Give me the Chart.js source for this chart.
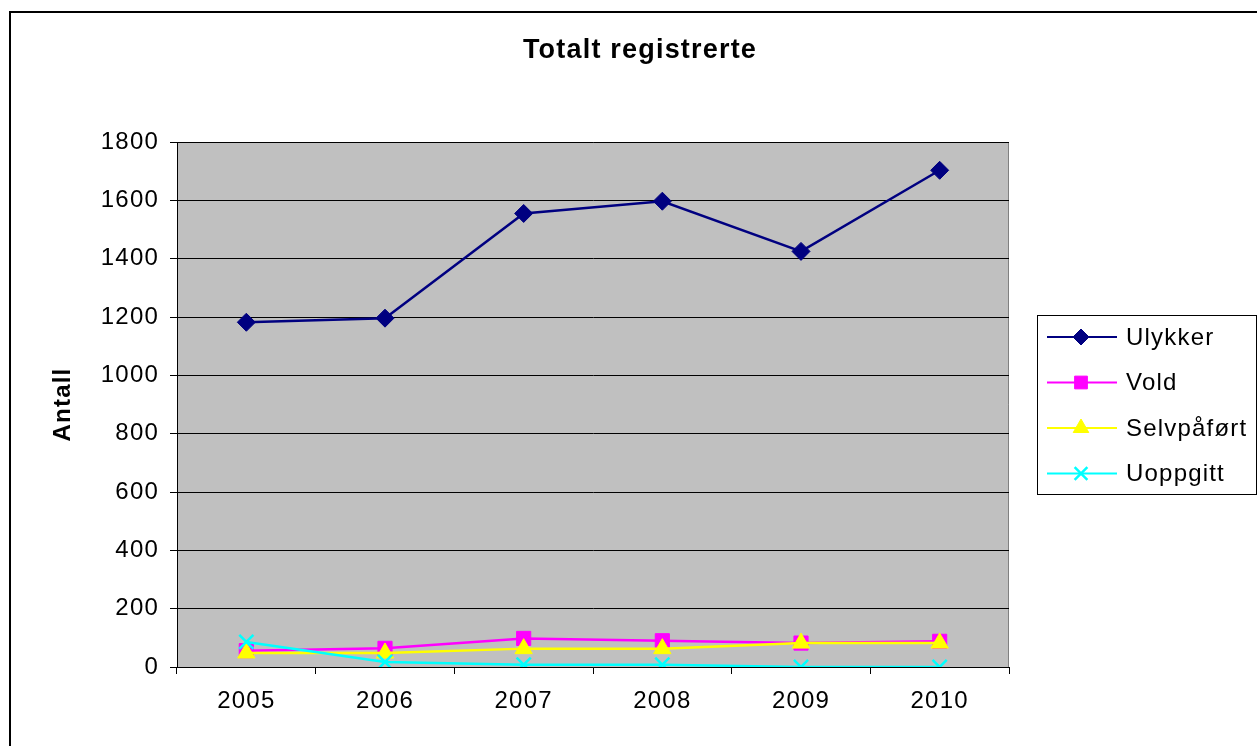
<!DOCTYPE html>
<html>
<head>
<meta charset="utf-8">
<script src="https://cdn.jsdelivr.net/npm/chart.js@4.4.1/dist/chart.umd.min.js"></script>
<style>
  html, body { margin: 0; padding: 0; background: #fff; }
  #wrap { width: 1257px; height: 746px; position: relative; }
</style>
</head>
<body>
<div id="wrap"><canvas id="c" width="1257" height="746"></canvas></div>
<script>
const FONT = '"Liberation Sans", Arial, sans-serif';
Chart.defaults.font.family = FONT;
Chart.defaults.color = '#000';
Chart.defaults.animation = false;

const years = ['2005', '2006', '2007', '2008', '2009', '2010'];
const ulykker = [1182, 1196, 1555, 1597, 1425, 1703];
const vold = [56, 64, 98, 90, 82, 88];
const selvpafort = [48, 48, 63, 63, 82, 82];
const uoppgitt = [86, 17, 8, 8, 0, 0];
const yTicks = [0, 200, 400, 600, 800, 1000, 1200, 1400, 1600, 1800];

const series = [
  { label: 'Ulykker', data: ulykker, color: '#000080', style: 'rectRot', r: 9 },
  { label: 'Vold', data: vold, color: '#ff00ff', style: 'rect', r: 10 },
  { label: 'Selvpåført', data: selvpafort, color: '#ffff00', style: 'triangle', r: 10 },
  { label: 'Uoppgitt', data: uoppgitt, color: '#00ffff', style: 'crossRot', r: 10 },
];

// grey plot area, outer frame, title and boxed legend
const decor = {
  id: 'decor',
  beforeDraw(chart) {
    const { ctx, chartArea: a } = chart;
    ctx.save();
    ctx.fillStyle = '#c0c0c0';
    ctx.fillRect(a.left, a.top, a.right - a.left, a.bottom - a.top);
    ctx.strokeStyle = '#808080';
    ctx.lineWidth = 1;
    ctx.beginPath();
    ctx.moveTo(a.left, a.top + 0.5);
    ctx.lineTo(a.right - 0.5, a.top + 0.5);
    ctx.lineTo(a.right - 0.5, a.bottom);
    ctx.stroke();
    ctx.restore();
    // the original text is a little loosely spaced
    ctx.letterSpacing = '1.2px';
  },
  afterDraw(chart) {
    const { ctx } = chart;
    ctx.save();
    // outer frame
    ctx.strokeStyle = '#000';
    ctx.lineWidth = 2;
    ctx.beginPath();
    ctx.moveTo(10, 760);
    ctx.lineTo(10, 12);
    ctx.lineTo(1257, 12);
    ctx.stroke();
    // title
    ctx.fillStyle = '#000';
    ctx.font = 'bold 27px ' + FONT;
    ctx.letterSpacing = '1.2px';
    ctx.textAlign = 'center';
    ctx.textBaseline = 'middle';
    ctx.fillText('Totalt registrerte', 640, 51);
    // legend
    ctx.lineWidth = 1;
    ctx.strokeRect(1037.5, 315.5, 219, 179);
    ctx.font = '24px ' + FONT;
    ctx.letterSpacing = '1.2px';
    ctx.textAlign = 'left';
    chart.data.datasets.forEach((ds, i) => {
      const y = 337 + i * 45.5;
      ctx.strokeStyle = ds.borderColor;
      ctx.lineWidth = 2;
      ctx.beginPath();
      ctx.moveTo(1047, y);
      ctx.lineTo(1117, y);
      ctx.stroke();
      ctx.fillStyle = ds.pointBackgroundColor;
      ctx.strokeStyle = ds.pointBorderColor;
      ctx.lineWidth = ds.pointBorderWidth;
      Chart.helpers.drawPoint(ctx, { pointStyle: ds.pointStyle, radius: ds.pointRadius - 1, borderWidth: ds.pointBorderWidth, rotation: 0 }, 1081, y);
      ctx.fillStyle = '#000';
      ctx.fillText(ds.label, 1126, y + 1);
    });
    ctx.restore();
    ctx.letterSpacing = '0px';
  }
};

new Chart(document.getElementById('c'), {
  type: 'line',
  data: {
    labels: years,
    datasets: series.map((s, i) => ({
      label: s.label,
      data: s.data,
      order: series.length - i,
      borderColor: s.color,
      backgroundColor: s.color,
      pointBackgroundColor: s.color,
      pointBorderColor: s.color,
      pointBorderWidth: s.style === 'crossRot' ? 2.5 : 1,
      pointStyle: s.style,
      pointRadius: s.r,
      borderWidth: 2.5,
      tension: 0,
    }))
  },
  options: {
    responsive: false,
    layout: { padding: { left: 49, top: 142, right: 248, bottom: 0 } },
    plugins: { legend: { display: false }, tooltip: { enabled: false } },
    scales: {
      x: {
        offset: true,
        grid: { offset: true, drawOnChartArea: false, drawTicks: true, tickLength: 7, color: '#000' },
        border: { color: '#000', width: 1 },
        ticks: { font: { size: 24 }, color: '#000', padding: 13, maxRotation: 0 },
        afterFit(s) { s.height = 79; }
      },
      y: {
        min: 0, max: 1800,
        afterBuildTicks(s) { s.ticks = yTicks.map(v => ({ value: v })); },
        grid: { color: '#000', tickLength: 7, lineWidth: 1 },
        border: { color: '#000', width: 1 },
        ticks: { font: { size: 24 }, color: '#000', padding: 11, callback: v => String(v) },
        title: { display: true, text: 'Antall', font: { size: 24, weight: 'bold' }, color: '#000', padding: 0 },
        afterFit(s) { s.width = 128; }
      }
    }
  },
  plugins: [decor]
});
</script>
</body>
</html>
